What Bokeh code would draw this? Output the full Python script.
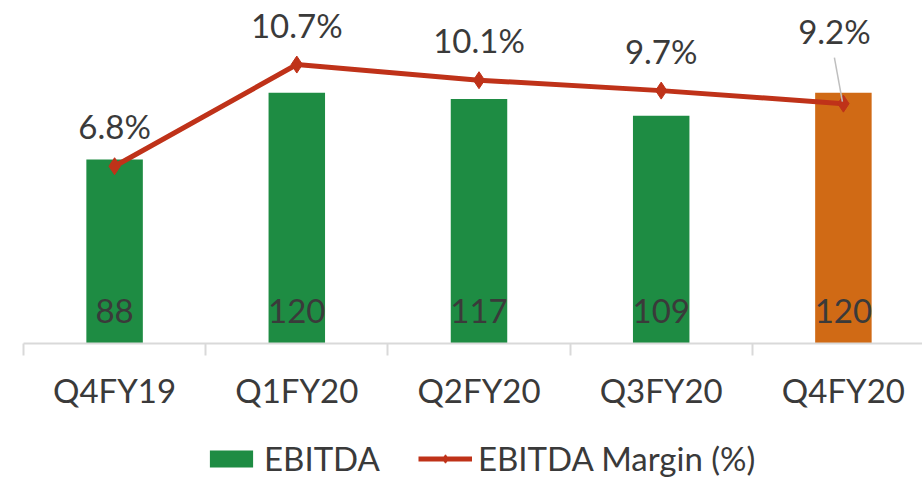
from bokeh.plotting import figure
from bokeh.layouts import column
from bokeh.models import ColumnDataSource, Range1d, FixedTicker, Legend, LegendItem
from bokeh.embed import file_html
from bokeh.resources import INLINE

quarters = ["Q4FY19", "Q1FY20", "Q2FY20", "Q3FY20", "Q4FY20"]
ebitda = [88, 120, 117, 109, 120]
margin = [6.8, 10.7, 10.1, 9.7, 9.2]
margin_labels = ["6.8%", "10.7%", "10.1%", "9.7%", "9.2%"]

GREEN = "#1E8C43"
ORANGE = "#D06A15"
RED = "#BF3219"
TEXT = "#3A3A3A"
GRID = "#D9D9D9"
FONT = "Lato"
FS = "33px"

n = len(quarters)
xc = [i + 0.5 for i in range(n)]
bar_colors = [GREEN] * (n - 1) + [ORANGE]
lab_dy = [-40] * (n - 1) + [-73]
lab_dx = [0] * (n - 1) + [-9]

src = ColumnDataSource(dict(x=xc, ebitda=ebitda, color=bar_colors,
                            elab=[str(v) for v in ebitda],
                            margin=margin, mlab=margin_labels,
                            dy=lab_dy, dx=lab_dx))

W = 922
H1 = 415
H2 = 62
frame_h = 343
left = 23
frame_px_w = W - left
full_px_w = 911.0
px_bar = 2.09
px_pct = 26.07

p = figure(width=W, height=H1, output_backend="svg", toolbar_location=None,
           x_range=Range1d(0, n * frame_px_w / full_px_w),
           y_range=Range1d(0, frame_h / px_bar),
           min_border_left=left, min_border_right=0, min_border_top=0,
           min_border_bottom=H1 - frame_h)
p.extra_y_ranges = {"pct": Range1d(0, frame_h / px_pct)}
p.yaxis.visible = False
p.xgrid.visible = False
p.ygrid.visible = False
p.outline_line_color = None

bars = p.vbar(x="x", top="ebitda", width=0.31, fill_color="color",
              line_color=None, source=src)
p.text(x="x", y=0, text="elab", source=src, y_offset=-33,
       text_align="center", text_baseline="middle", text_font_size=FS,
       text_font={"value": FONT}, text_color=TEXT)

ln = p.line(x="x", y="margin", source=src, y_range_name="pct",
            line_color=RED, line_width=5)
mk = p.scatter(x="x", y="margin", source=src, y_range_name="pct",
               marker="diamond", size=17, fill_color=RED, line_color=RED)

# leader line for the displaced last label
px_x = full_px_w / n
p.segment(x0=[xc[-1] - 9 / px_x], y0=[margin[-1] + 46 / px_pct],
          x1=[xc[-1] - 1 / px_x], y1=[margin[-1] + 2 / px_pct],
          y_range_name="pct", line_color="#BFBFBF", line_width=1.5)

p.text(x="x", y="margin", text="mlab", source=src, y_range_name="pct",
       x_offset="dx", y_offset="dy", text_align="center",
       text_baseline="middle", text_font_size=FS,
       text_font={"value": FONT}, text_color=TEXT)

ax = p.xaxis[0]
ax.ticker = FixedTicker(ticks=xc, minor_ticks=list(range(n + 1)))
ax.major_label_overrides = {x: q for x, q in zip(xc, quarters)}
ax.axis_line_color = GRID
ax.axis_line_width = 2
ax.major_tick_line_color = None
ax.minor_tick_line_color = GRID
ax.minor_tick_line_width = 2
ax.minor_tick_out = 12
ax.minor_tick_in = 0
ax.major_tick_out = 0
ax.major_tick_in = 0
ax.major_label_standoff = 14
ax.major_label_text_font_size = FS
ax.major_label_text_font = FONT
ax.major_label_text_color = TEXT

# legend row: same series drawn outside this figure's view, used only as legend proxies
q = figure(width=W, height=H2, output_backend="svg", toolbar_location=None,
           x_range=Range1d(-30, -20), y_range=Range1d(-30, -20),
           min_border_left=0, min_border_right=0, min_border_top=0,
           min_border_bottom=0)
q.axis.visible = False
q.grid.visible = False
q.outline_line_color = None
lb = q.vbar(x="x", top="ebitda", bottom="ebitda", width=0, fill_color=GREEN,
            line_color=None, source=src)
ll = q.line(x="x", y="margin", line_color=RED, line_width=5, source=src)
lm = q.scatter(x="x", y="margin", marker="diamond", size=17, fill_color=RED,
               line_color=RED, source=src)

legend = Legend(items=[LegendItem(label="EBITDA", renderers=[lb], index=0),
                       LegendItem(label="EBITDA Margin (%)", renderers=[ll, lm], index=0)],
                orientation="horizontal", location=(181, -1))
legend.label_text_font_size = FS
legend.label_text_font = FONT
legend.label_text_color = TEXT
legend.label_height = 30
legend.glyph_width = 54
legend.glyph_height = 21
legend.label_standoff = 6
legend.spacing = 38
legend.padding = 0
legend.margin = 0
legend.border_line_color = None
legend.background_fill_alpha = 0
q.add_layout(legend, "center")

layout = column(p, q, spacing=0)
open("out.html", "w").write(file_html(layout, INLINE))
